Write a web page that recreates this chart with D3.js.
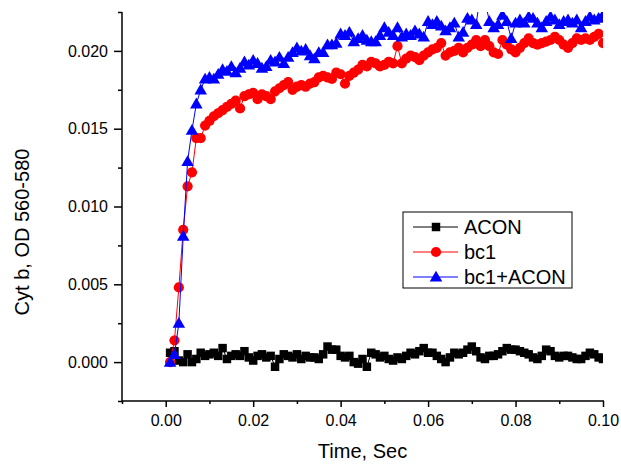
<!DOCTYPE html>
<html>
<head>
<meta charset="utf-8">
<script src="https://cdn.jsdelivr.net/npm/d3@7"></script>
<style>
  html, body { margin: 0; padding: 0; background: #fff; }
  svg { display: block; font-family: "Liberation Sans", Arial, sans-serif; }
</style>
</head>
<body>
<svg id="chart" width="621" height="465"></svg>
<script>
// ---- data ----
const time = [0.001,0.002,0.003,0.004,0.005,0.006,0.007,0.008,0.009,0.010,
  0.011,0.012,0.013,0.014,0.015,0.016,0.017,0.018,0.019,0.020,
  0.021,0.022,0.023,0.024,0.025,0.026,0.027,0.028,0.029,0.030,
  0.031,0.032,0.033,0.034,0.035,0.036,0.037,0.038,0.039,0.040,
  0.041,0.042,0.043,0.044,0.045,0.046,0.047,0.048,0.049,0.050,
  0.051,0.052,0.053,0.054,0.055,0.056,0.057,0.058,0.059,0.060,
  0.061,0.062,0.063,0.064,0.065,0.066,0.067,0.068,0.069,0.070,
  0.071,0.072,0.073,0.074,0.075,0.076,0.077,0.078,0.079,0.080,
  0.081,0.082,0.083,0.084,0.085,0.086,0.087,0.088,0.089,0.090,
  0.091,0.092,0.093,0.094,0.095,0.096,0.097,0.098,0.099,0.100];

const acon = [0.0006,0.0007,0.0001,0.0000,0.0005,0.0000,0.0002,0.0006,0.0004,0.0005,
  0.0006,0.0004,0.0009,0.0002,0.0004,0.0005,0.0004,0.0007,0.0003,0.0001,
  0.0004,0.0005,0.0003,0.0004,-0.0003,0.0002,0.0005,0.0004,0.0003,0.0005,
  0.0002,0.0004,0.0003,0.0003,0.0002,0.0005,0.0010,0.0008,0.0008,0.0004,
  0.0003,0.0004,0.0000,-0.0001,0.0002,-0.0003,0.0006,0.0005,0.0003,0.0004,
  0.0002,0.0001,0.0003,0.0002,0.0004,0.0006,0.0005,0.0007,0.0009,0.0006,
  0.0006,0.0004,0.0002,0.0000,0.0003,0.0006,0.0005,0.0006,0.0008,0.0010,
  0.0007,0.0003,0.0002,0.0004,0.0004,0.0005,0.0007,0.0009,0.0008,0.0008,
  0.0007,0.0006,0.0005,0.0003,0.0002,0.0004,0.0008,0.0007,0.0004,0.0003,
  0.0004,0.0004,0.0003,0.0002,0.0002,0.0004,0.0006,0.0005,0.0003,0.0002];

const bc1 = [0.0000,0.0014,0.0048,0.0085,0.0113,0.0122,0.0144,0.0144,0.0152,0.0155,
  0.0158,0.0160,0.0162,0.0164,0.0166,0.0168,0.0163,0.0171,0.0172,0.0173,
  0.0169,0.0172,0.0171,0.0169,0.0174,0.0176,0.0178,0.0180,0.0175,0.0177,
  0.0178,0.0177,0.0179,0.0180,0.0183,0.0184,0.0183,0.0182,0.0186,0.0185,
  0.0179,0.0184,0.0186,0.0188,0.0191,0.0190,0.0193,0.0192,0.0190,0.0191,
  0.0193,0.0192,0.0203,0.0192,0.0195,0.0197,0.0196,0.0194,0.0197,0.0199,
  0.0201,0.0202,0.0205,0.0197,0.0199,0.0200,0.0202,0.0199,0.0202,0.0204,
  0.0207,0.0203,0.0207,0.0203,0.0199,0.0198,0.0207,0.0204,0.0201,0.0199,
  0.0202,0.0205,0.0208,0.0205,0.0204,0.0205,0.0206,0.0207,0.0209,0.0207,
  0.0204,0.0202,0.0205,0.0208,0.0207,0.0208,0.0207,0.0209,0.0211,0.0205];

const bc1Acon = [0.0000,0.0005,0.0025,0.0081,0.0129,0.0149,0.0166,0.0175,0.0182,0.0183,
  0.0182,0.0185,0.0188,0.0187,0.0190,0.0186,0.0189,0.0193,0.0191,0.0194,
  0.0192,0.0189,0.0190,0.0194,0.0193,0.0196,0.0192,0.0196,0.0199,0.0202,
  0.0200,0.0201,0.0197,0.0195,0.0199,0.0199,0.0204,0.0204,0.0205,0.0211,
  0.0210,0.0212,0.0206,0.0208,0.0210,0.0207,0.0206,0.0206,0.0210,0.0215,
  0.0212,0.0210,0.0215,0.0209,0.0211,0.0210,0.0213,0.0211,0.0209,0.0219,
  0.0217,0.0219,0.0216,0.0213,0.0215,0.0218,0.0209,0.0212,0.0221,0.0220,
  0.0217,0.0238,0.0233,0.0219,0.0215,0.0217,0.0223,0.0219,0.0208,0.0218,
  0.0220,0.0218,0.0222,0.0221,0.0218,0.0215,0.0219,0.0222,0.0220,0.0217,
  0.0219,0.0220,0.0218,0.0220,0.0215,0.0219,0.0222,0.0220,0.0221,0.0223];

const seriesNames = ["ACON", "bc1", "bc1+ACON"];
const xMajorTicks = [0.00, 0.02, 0.04, 0.06, 0.08, 0.10];
const xMinorTicks = [-0.01, 0.01, 0.03, 0.05, 0.07, 0.09];
const yMajorTicks = [0.000, 0.005, 0.010, 0.015, 0.020];
const yMinorTicks = [-0.0025, 0.0025, 0.0075, 0.0125, 0.0175, 0.0225];
const xTitle = "Time, Sec";
const yTitle = "Cyt b, OD 560-580";

// ---- drawing ----
const svg = d3.select("#chart");
const L = 122, R = 603, T = 12, B = 401;
const x = d3.scaleLinear().domain([-0.01, 0.10]).range([L, R]);
const y = d3.scaleLinear().domain([-0.0025, 0.0225]).range([B, T]);

const styles = [
  { color: "#000000", shape: "square" },
  { color: "#ff0000", shape: "circle" },
  { color: "#0000ff", shape: "triangle" }
];
const seriesValues = [acon, bc1, bc1Acon];

const symbolFor = shape => {
  if (shape === "square") return d3.symbol().type(d3.symbolSquare).size(72)();
  if (shape === "circle") return d3.symbol().type(d3.symbolCircle).size(82)();
  return d3.symbol().type(d3.symbolTriangle).size(68)();
};

svg.append("defs").append("clipPath").attr("id", "plotclip")
  .append("rect").attr("x", L).attr("y", T).attr("width", R - L).attr("height", B - T);

const plot = svg.append("g").attr("clip-path", "url(#plotclip)");

seriesValues.forEach((vals, si) => {
  const data = time.map((t, i) => ({ t, v: vals[i] }));
  const st = styles[si];
  const g = plot.append("g");
  g.append("path")
    .datum(data)
    .attr("fill", "none")
    .attr("stroke", st.color)
    .attr("stroke-width", 1)
    .attr("d", d3.line().x(d => x(d.t)).y(d => y(d.v)));
  const sym = symbolFor(st.shape);
  g.selectAll("path.m").data(data).join("path")
    .attr("class", "m")
    .attr("d", sym)
    .attr("fill", st.color)
    .attr("transform", d => `translate(${x(d.t)},${y(d.v) + (st.shape === "triangle" ? 1 : 0)})`);
});

// axes
const xAxis = svg.append("g").attr("transform", `translate(0,${B})`)
  .call(d3.axisBottom(x).tickValues(xMajorTicks).tickFormat(d3.format(".2f")).tickSize(6).tickSizeOuter(0).tickPadding(8));
const xAxisMinor = svg.append("g").attr("transform", `translate(0,${B})`)
  .call(d3.axisBottom(x).tickValues(xMinorTicks).tickFormat("").tickSize(3).tickSizeOuter(0));
const yAxis = svg.append("g").attr("transform", `translate(${L},0)`)
  .call(d3.axisLeft(y).tickValues(yMajorTicks).tickFormat(d3.format(".3f")).tickSize(8).tickSizeOuter(0).tickPadding(6));
const yAxisMinor = svg.append("g").attr("transform", `translate(${L},0)`)
  .call(d3.axisLeft(y).tickValues(yMinorTicks).tickFormat("").tickSize(4).tickSizeOuter(0));

[xAxis, xAxisMinor, yAxis, yAxisMinor].forEach(a => {
  a.select(".domain").remove();
  a.selectAll(".tick line").attr("stroke", "#000").attr("stroke-width", 1.5);
  a.selectAll(".tick text").attr("fill", "#000").attr("font-size", 16)
    .attr("font-family", '"Liberation Sans", Arial, sans-serif');
});

svg.append("line").attr("x1", L).attr("x2", R + 1).attr("y1", B).attr("y2", B)
  .attr("stroke", "#000").attr("stroke-width", 1.5);
svg.append("line").attr("x1", L).attr("x2", L).attr("y1", T).attr("y2", B)
  .attr("stroke", "#000").attr("stroke-width", 1.5);

// titles
svg.append("text").attr("x", (L + R) / 2).attr("y", 458)
  .attr("text-anchor", "middle").attr("font-size", 20).attr("fill", "#000").text(xTitle);
svg.append("text").attr("transform", "translate(29,232) rotate(-90)")
  .attr("text-anchor", "middle").attr("font-size", 20).attr("fill", "#000").text(yTitle);

// legend
const lg = svg.append("g");
lg.append("rect").attr("x", 403).attr("y", 212).attr("width", 169).attr("height", 76)
  .attr("fill", "#fff").attr("stroke", "#000").attr("stroke-width", 1);
seriesNames.forEach((name, i) => {
  const cy = 227 + i * 25;
  const st = styles[i];
  lg.append("line").attr("x1", 413).attr("x2", 458).attr("y1", cy).attr("y2", cy)
    .attr("stroke", st.color).attr("stroke-width", 1);
  lg.append("path").attr("d", symbolFor(st.shape)).attr("fill", st.color)
    .attr("transform", `translate(436,${cy + (st.shape === "triangle" ? 1 : 0)})`);
  lg.append("text").attr("x", 464).attr("y", cy + 7.3).attr("font-size", 20)
    .attr("fill", "#000").text(name);
});
</script>
</body>
</html>
